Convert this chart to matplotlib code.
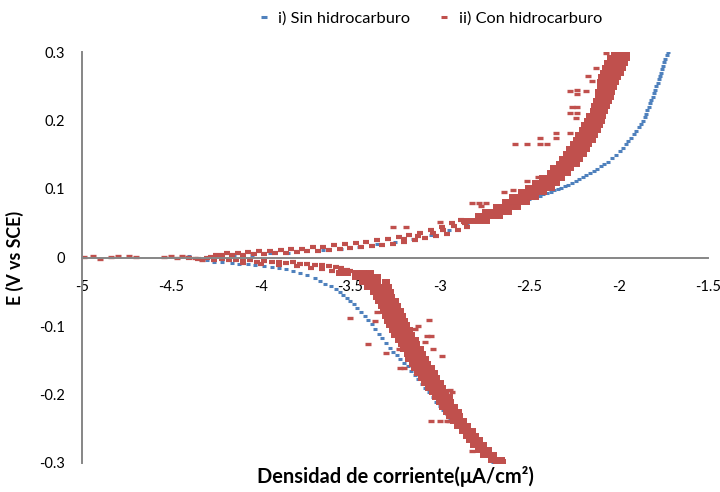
import matplotlib.pyplot as plt
from matplotlib.lines import Line2D

plt.rcParams['font.family'] = ['Lato', 'DejaVu Sans']

# Data (x = log current density, y = E vs SCE)

# i) Sin hidrocarburo - anodic branch
sin_an_x = [-4.25, -4.15, -4.05, -3.95, -3.85, -3.75, -3.65, -3.55, -3.45, -3.35,
            -3.25, -3.15, -3.05, -2.95, -2.85,
            -2.78, -2.76, -2.74, -2.72, -2.70, -2.68, -2.66, -2.64, -2.62, -2.60,
            -2.58, -2.56, -2.54, -2.52, -2.50, -2.48, -2.46, -2.44, -2.42, -2.40,
            -2.38, -2.36, -2.34, -2.32, -2.30, -2.28, -2.26, -2.24, -2.22, -2.20,
            -2.18, -2.16, -2.14, -2.12, -2.10, -2.08,
            -2.06, -2.035, -2.015, -1.99, -1.975, -1.96, -1.945, -1.93, -1.915, -1.90,
            -1.888, -1.876, -1.865, -1.855, -1.847, -1.839, -1.831, -1.823, -1.816, -1.809,
            -1.802, -1.795, -1.788, -1.781, -1.775, -1.768, -1.762, -1.756, -1.751, -1.745,
            -1.739, -1.732, -1.725]
sin_an_y = [0.001, 0.003, 0.004, 0.006, 0.007, 0.009, 0.011, 0.013, 0.016, 0.019,
            0.023, 0.027, 0.033, 0.040, 0.049,
            0.056, 0.060, 0.062, 0.064, 0.066, 0.068, 0.070, 0.072, 0.074, 0.076,
            0.078, 0.080, 0.082, 0.083, 0.085, 0.087, 0.089, 0.090, 0.092, 0.094,
            0.096, 0.098, 0.100, 0.102, 0.104, 0.106, 0.109, 0.111, 0.114, 0.117,
            0.120, 0.123, 0.126, 0.129, 0.133, 0.137,
            0.140, 0.145, 0.150, 0.155, 0.160, 0.165, 0.170, 0.175, 0.180, 0.185,
            0.190, 0.195, 0.200, 0.205, 0.210, 0.215, 0.220, 0.225, 0.230, 0.235,
            0.240, 0.245, 0.250, 0.255, 0.260, 0.265, 0.270, 0.275, 0.280, 0.285,
            0.290, 0.295, 0.300]

# i) Sin hidrocarburo - cathodic branch
sin_ca_x = [-4.40, -4.35, -4.30, -4.26, -4.22, -4.16, -4.12, -4.07, -4.03, -3.98,
            -3.94, -3.90, -3.86, -3.82, -3.78, -3.74, -3.70, -3.67, -3.64, -3.61,
            -3.58, -3.56, -3.54, -3.52, -3.50, -3.48, -3.46, -3.44, -3.42, -3.40,
            -3.38, -3.36, -3.34, -3.32, -3.30, -3.28, -3.26, -3.24, -3.22, -3.20,
            -3.18, -3.16, -3.14, -3.12, -3.10, -3.08, -3.06, -3.04, -3.02, -3.00,
            -2.98, -2.96, -2.94, -2.92, -2.90, -2.88, -2.86, -2.84, -2.82, -2.80,
            -2.78, -2.76, -2.74, -2.72, -2.70]
sin_ca_y = [0.002, -0.002, -0.004, -0.006, -0.006, -0.008, -0.009, -0.010, -0.011, -0.013,
            -0.014, -0.015, -0.017, -0.019, -0.022, -0.026, -0.030, -0.034, -0.038, -0.042,
            -0.046, -0.050, -0.055, -0.059, -0.063, -0.068, -0.073, -0.079, -0.085, -0.091,
            -0.097, -0.104, -0.111, -0.118, -0.125, -0.132, -0.138, -0.143, -0.148, -0.154,
            -0.159, -0.165, -0.171, -0.178, -0.184, -0.190, -0.197, -0.204, -0.211, -0.217,
            -0.222, -0.228, -0.234, -0.239, -0.245, -0.250, -0.256, -0.262, -0.268, -0.274,
            -0.279, -0.284, -0.289, -0.294, -0.298]

# ii) Con hidrocarburo - points near E = 0 on the left
con_base_x = [-4.99, -4.94, -4.90, -4.84, -4.80, -4.74, -4.70, -4.54, -4.50, -4.47,
              -4.44, -4.41, -4.37, -4.33]
con_base_y = [0.001, 0.002, -0.002, 0.001, 0.002, 0.002, 0.001, 0.001, 0.002, 0.000,
              0.002, 0.001, -0.001, -0.003]

# ii) anodic branch, low part (two/three dashes thick)
con_an_low_x = [-4.28, -4.22, -4.16, -4.10, -4.04, -3.98, -3.92, -3.86, -3.80, -3.74,
                -3.68, -3.62, -3.56, -3.50, -3.44, -3.38, -3.32, -3.26, -3.20, -3.14,
                -3.08, -3.02, -2.96, -2.90, -2.85,
                -4.25, -4.19, -4.13, -4.07, -4.01, -3.95, -3.89, -3.83, -3.77, -3.71,
                -3.65, -3.59, -3.53, -3.47, -3.41, -3.35, -3.29, -3.23, -3.17, -3.11,
                -3.05, -2.99, -2.93, -2.88,
                -3.20, -3.12, -3.04, -2.98, -2.92, -2.86]
con_an_low_y = [0.001, 0.003, 0.004, 0.004, 0.005, 0.005, 0.006, 0.007, 0.008, 0.009,
                0.010, 0.011, 0.013, 0.014, 0.015, 0.017, 0.018, 0.020, 0.022, 0.025,
                0.028, 0.031, 0.035, 0.040, 0.044,
                0.004, 0.006, 0.007, 0.008, 0.009, 0.010, 0.011, 0.012, 0.013, 0.015,
                0.016, 0.018, 0.020, 0.021, 0.023, 0.025, 0.027, 0.030, 0.033, 0.036,
                0.040, 0.045, 0.050, 0.055,
                0.027, 0.031, 0.036, 0.040, 0.046, 0.050]

# ii) anodic branch, dense upper band: one row of dashes per potential level
con_an_lev = [0.298, 0.291, 0.284, 0.277, 0.270, 0.263, 0.256, 0.249, 0.242, 0.235,
              0.228, 0.221, 0.214, 0.207, 0.200, 0.193, 0.186, 0.179, 0.172, 0.165,
              0.158, 0.151, 0.144, 0.137, 0.130, 0.123, 0.116, 0.109, 0.102, 0.095,
              0.088, 0.081, 0.074, 0.067, 0.060, 0.053]
con_an_rows = [[-2.02, -1.99, -1.96], [-2.04, -2.01, -1.98, -1.96],
               [-2.06, -2.03, -2.00, -1.97], [-2.07, -2.04, -2.01, -1.98],
               [-2.08, -2.05, -2.02, -1.99], [-2.09, -2.06, -2.03, -2.01],
               [-2.10, -2.07, -2.04, -2.02], [-2.10, -2.07, -2.05, -2.03],
               [-2.11, -2.08, -2.06, -2.04], [-2.11, -2.09, -2.07, -2.05],
               [-2.12, -2.10, -2.08, -2.06], [-2.13, -2.11, -2.09, -2.07],
               [-2.14, -2.12, -2.10, -2.08], [-2.16, -2.13, -2.11, -2.09],
               [-2.17, -2.14, -2.12, -2.10], [-2.19, -2.16, -2.13, -2.11],
               [-2.20, -2.17, -2.15, -2.12], [-2.22, -2.19, -2.16, -2.14],
               [-2.23, -2.20, -2.18, -2.15], [-2.25, -2.22, -2.19, -2.17],
               [-2.27, -2.24, -2.21, -2.18], [-2.29, -2.26, -2.23, -2.20],
               [-2.31, -2.28, -2.25, -2.22], [-2.33, -2.30, -2.27, -2.24],
               [-2.36, -2.33, -2.30, -2.27], [-2.38, -2.35, -2.32, -2.29],
               [-2.42, -2.39, -2.36, -2.33, -2.32], [-2.46, -2.43, -2.40, -2.37, -2.35],
               [-2.50, -2.47, -2.44, -2.41, -2.38], [-2.54, -2.51, -2.48, -2.45, -2.42],
               [-2.59, -2.56, -2.53, -2.50, -2.47], [-2.63, -2.60, -2.57, -2.54, -2.52],
               [-2.68, -2.65, -2.62, -2.59, -2.57], [-2.74, -2.71, -2.68, -2.65, -2.62],
               [-2.78, -2.75, -2.72, -2.69, -2.67], [-2.86, -2.82, -2.78, -2.74]]

# ii) cathodic branch, shallow part near E = 0
con_ca_low_x = [-4.40, -4.35, -4.30, -4.26, -4.22, -4.18, -4.14, -4.10, -4.06, -4.02,
                -3.98, -3.94, -3.90, -3.86, -3.82, -3.78, -3.74, -3.70, -3.66, -3.62,
                -3.58, -3.55, -3.52, -3.50,
                -4.10, -4.00, -3.90, -3.80, -3.72, -3.66, -3.60, -3.55]
con_ca_low_y = [-0.001, -0.002, -0.001, -0.003, -0.002, -0.004, -0.003, -0.005, -0.004, -0.006,
                -0.005, -0.007, -0.006, -0.008, -0.007, -0.009, -0.009, -0.011, -0.011, -0.013,
                -0.014, -0.016, -0.018, -0.020,
                -0.008, -0.009, -0.011, -0.012, -0.015, -0.017, -0.019, -0.022]

# ii) cathodic branch, dense band
con_ca_lev = [-0.022, -0.029, -0.036, -0.043, -0.050, -0.057, -0.064, -0.071, -0.078, -0.085,
              -0.092, -0.099, -0.106, -0.113, -0.120, -0.127, -0.134, -0.141, -0.148, -0.155,
              -0.162, -0.169, -0.176, -0.183, -0.190, -0.197, -0.204, -0.211, -0.218, -0.225,
              -0.232, -0.239, -0.246, -0.253, -0.260, -0.267, -0.274, -0.281, -0.288, -0.295,
              -0.299]
con_ca_rows = [[-3.56, -3.52, -3.47, -3.43, -3.39], [-3.47, -3.43, -3.39, -3.35],
               [-3.43, -3.39, -3.35, -3.30], [-3.40, -3.36, -3.32, -3.29],
               [-3.37, -3.34, -3.31, -3.28], [-3.35, -3.32, -3.29, -3.27],
               [-3.34, -3.31, -3.28, -3.25], [-3.32, -3.29, -3.27, -3.24],
               [-3.31, -3.28, -3.25, -3.22], [-3.30, -3.27, -3.24, -3.21],
               [-3.29, -3.26, -3.23, -3.20], [-3.28, -3.25, -3.22, -3.19],
               [-3.26, -3.23, -3.20, -3.17], [-3.25, -3.22, -3.19, -3.16],
               [-3.23, -3.20, -3.17, -3.14], [-3.21, -3.18, -3.15, -3.13],
               [-3.20, -3.17, -3.14, -3.11], [-3.18, -3.15, -3.12, -3.10],
               [-3.17, -3.14, -3.11, -3.08], [-3.15, -3.12, -3.09, -3.07],
               [-3.14, -3.11, -3.08, -3.05], [-3.12, -3.09, -3.06, -3.03],
               [-3.10, -3.07, -3.04, -3.02], [-3.08, -3.05, -3.02, -3.00],
               [-3.06, -3.03, -3.01, -2.99], [-3.04, -3.01, -2.99, -2.97],
               [-3.02, -2.99, -2.97, -2.95], [-3.00, -2.97, -2.95, -2.94],
               [-2.98, -2.95, -2.93, -2.92], [-2.96, -2.93, -2.91, -2.90],
               [-2.94, -2.91, -2.89], [-2.92, -2.89, -2.87],
               [-2.90, -2.87, -2.85], [-2.87, -2.84, -2.82],
               [-2.85, -2.82, -2.80], [-2.83, -2.80, -2.78],
               [-2.81, -2.78, -2.76], [-2.78, -2.75, -2.73],
               [-2.75, -2.72, -2.70], [-2.71, -2.68, -2.66],
               [-2.68, -2.65]]

# ii) scattered outlying dashes
con_out_x = [-2.07, -2.125, -2.17, -2.15, -2.27, -2.23, -2.23, -2.18, -2.26, -2.23,
             -2.27, -2.23, -2.24, -2.35, -2.27, -2.44, -2.35, -2.58, -2.51, -2.44,
             -2.40, -2.45, -2.51, -2.59, -2.64, -2.74, -2.77, -3.26, -3.19, -3.00,
             -2.82, -2.78,
             -3.50, -3.40, -3.35, -3.36, -3.28, -3.24, -3.23, -3.21, -3.30, -3.22,
             -3.20, -3.06, -3.07, -3.05, -3.04, -2.99, -3.08, -3.12, -3.14, -2.94,
             -2.93, -3.05, -3.00, -2.96, -2.95, -2.82]
con_out_y = [0.299, 0.277, 0.265, 0.257, 0.243, 0.245, 0.238, 0.243, 0.219, 0.219,
             0.211, 0.211, 0.204, 0.182, 0.182, 0.175, 0.175, 0.165, 0.165, 0.165,
             0.165, 0.117, 0.111, 0.099, 0.095, 0.080, 0.075, 0.044, 0.044, 0.052,
             0.079, 0.079,
             -0.088, -0.126, -0.079, -0.092, -0.093, -0.093, -0.134, -0.134, -0.139, -0.161,
             -0.161, -0.091, -0.115, -0.115, -0.134, -0.144, -0.124, -0.100, -0.105, -0.193,
             -0.197, -0.239, -0.239, -0.239, -0.239, -0.283]

x_ticks = [-5, -4.5, -4, -3.5, -3, -2.5, -2, -1.5]
x_labels = ['-5', '-4.5', '-4', '-3.5', '-3', '-2.5', '-2', '-1.5']
y_ticks = [0.3, 0.2, 0.1, 0, -0.1, -0.2, -0.3]
y_labels = ['0.3', '0.2', '0.1', '0', '-0.1', '-0.2', '-0.3']

blue = '#4F81BD'
red = '#C0504D'
grey = '#868686'

# flatten the row data (dense bands)
band_x, band_y = [], []
for lev, row in zip(con_an_lev, con_an_rows):
    band_x += row
    band_y += [lev] * len(row)
for lev, row in zip(con_ca_lev, con_ca_rows):
    band_x += row
    band_y += [lev] * len(row)
low_x = con_an_low_x + con_ca_low_x
low_y = con_an_low_y + con_ca_low_y
loose_x = con_base_x + con_out_x
loose_y = con_base_y + con_out_y
sin_x = sin_an_x + sin_ca_x
sin_y = sin_an_y + sin_ca_y

fig = plt.figure(figsize=(7.2, 4.92), dpi=100)
ax = fig.add_axes([82 / 720, 1 - 463 / 492, 626 / 720, 411 / 492])

ax.plot(sin_x, sin_y, ls='none', marker='_', ms=3.2, mew=2.2, color=blue)
ax.plot(band_x, band_y, ls='none', marker='_', ms=5.6, mew=4.3, color=red)
ax.plot(low_x, low_y, ls='none', marker='_', ms=5.0, mew=3.0, color=red)
ax.plot(loose_x, loose_y, ls='none', marker='_', ms=4.6, mew=2.4, color=red)

ax.set_xlim(-5, -1.5)
ax.set_ylim(-0.3, 0.3)
ax.set_xticks(x_ticks)
ax.set_xticklabels(x_labels)
ax.set_yticks(y_ticks)
ax.set_yticklabels(y_labels)
ax.tick_params(length=0, labelsize=10.5)
ax.tick_params(axis='x', pad=16.5)
ax.tick_params(axis='y', pad=12)

for s in ['top', 'right']:
    ax.spines[s].set_visible(False)
for s in ['left', 'bottom']:
    ax.spines[s].set_color(grey)
    ax.spines[s].set_linewidth(1.4)
ax.spines['bottom'].set_position(('data', 0))

ax.set_xlabel('Densidad de corriente(μA/cm²)', fontsize=14.4, fontweight='bold')
ax.xaxis.set_label_coords(0.5, -0.032)
ax.xaxis.label.set_va('center')
ax.set_ylabel('E (V vs SCE)', fontsize=12.8, fontweight='bold')
ax.yaxis.set_label_coords(-0.092, 0.5)

handles = [Line2D([], [], ls='none', marker='_', ms=4, mew=2.2, color=blue),
           Line2D([], [], ls='none', marker='_', ms=4, mew=2.2, color=red)]
fig.legend(handles, ['i) Sin hidrocarburo', 'ii) Con hidrocarburo'],
           loc='center', bbox_to_anchor=(0.597, 0.963), ncol=2, frameon=False,
           fontsize=11.8, handlelength=0.8, handletextpad=0.5, columnspacing=1.67)

fig.savefig('out.png', dpi=100)
